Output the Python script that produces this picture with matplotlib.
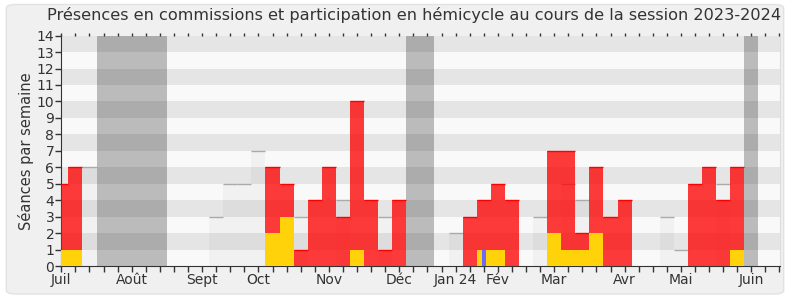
import numpy as np
import matplotlib
matplotlib.use("Agg")
import matplotlib.pyplot as plt
from matplotlib.patches import FancyBboxPatch

# one value per week, week 0 = start of July 2023
red = [5, 6, 0, 0, 0, 0, 0, 0, 0, 0, 0, 0, 0, 0, 0, 6, 5, 1, 4, 6,
       3, 10, 4, 1, 4, 0, 0, 0, 0, 3, 4, 5, 4, 0, 0, 7, 7, 2, 6, 3,
       4, 0, 0, 0, 0, 5, 6, 4, 6, 0, 0, 0]
yellow = [1, 1, 0, 0, 0, 0, 0, 0, 0, 0, 0, 0, 0, 0, 0, 2, 3, 0, 0, 0,
          0, 1, 0, 0, 0, 0, 0, 0, 0, 0, 1, 1, 0, 0, 0, 2, 1, 1, 2, 0,
          0, 0, 0, 0, 0, 0, 0, 0, 1, 0, 0, 0]
blue = [0] * 30 + [1] + [0] * 21
median = [0, 0, 6, 0, 0, 0, 0, 0, 0, 0, 0, 3, 5, 5, 7, 0, 0, 3, 0, 0,
          4, 0, 0, 3, 0, 0, 0, 0, 2, 0, 0, 0, 0, 0, 3, 0, 5, 4, 0, 0,
          0, 0, 0, 3, 1, 0, 0, 5, 0, 0, 0, 0]
vacances = [3, 4, 5, 6, 7, 25, 26, 49]
mois = ["Juil", "Août", "Sept", "Oct", "Nov", "Déc", "Jan 24", "Fév",
        "Mar", "Avr", "Mai", "Juin"]
mois_semaine = [0, 5, 10, 14, 19, 24, 28, 31, 35, 40, 44, 49]

weeks = np.arange(len(red))

fig = plt.figure(figsize=(7.9, 3.0), dpi=100)
fig.patch.set_facecolor("white")
fig.patches.append(FancyBboxPatch((0.008, 0.02), 0.984, 0.965, boxstyle="round,pad=0,rounding_size=0.012",
                                  transform=fig.transFigure, facecolor="#f0f0f0", edgecolor="#e2e2e2",
                                  linewidth=1, zorder=-10))
ax = fig.add_axes([0.0776, 0.1133, 0.91, 0.768])
ax.set_facecolor("white")

for w in vacances:
    ax.axvspan(w - 0.5, w + 0.5, color="#c0c0c0", lw=0, zorder=0)
for y in range(14):
    ax.axhspan(y, y + 1, color="black", alpha=0.1 if y % 2 else 0.025, lw=0, zorder=1)

med = np.array(median)
ax.bar(weeks, med, width=1, color="black", alpha=0.03, lw=0, zorder=2)
ax.hlines(med[med > 0], weeks[med > 0] - 0.5, weeks[med > 0] + 0.5, color="#aaaaaa", lw=1, zorder=2)

r = np.array(red)
ax.bar(weeks, r, width=1, color=(1, 0, 0, 0.77), lw=0, zorder=3)
ax.hlines(r[r > 0], weeks[r > 0] - 0.5, weeks[r > 0] + 0.5, color="#ff0000", lw=1, zorder=3)
ax.bar(weeks, yellow, width=1, color="#ffd20a", lw=0, zorder=4)
ax.bar(weeks, blue, width=0.25, color="#6a6aff", lw=0, zorder=5)

ax.set_xlim(0, 51.05)
ax.set_ylim(0, 14)
ax.set_yticks(range(15))
ax.set_xticks(weeks)
labels = [""] * len(weeks)
for m, w in zip(mois, mois_semaine):
    labels[w] = m
ax.set_xticklabels(labels)
ax.tick_params(axis="x", length=4, width=1, color="#333333", labelsize=10, labelcolor="#333333", pad=1)
ax.tick_params(axis="y", length=4, width=1, color="#333333", labelsize=10, labelcolor="#333333", pad=1)
for s in ["left", "bottom"]:
    ax.spines[s].set_color("#333333")
ax.spines["top"].set_visible(False)
ax.spines["right"].set_color("#dddddd")

top = ax.secondary_xaxis("top")
top.set_xticks(weeks)
top.set_xticklabels([])
top.tick_params(length=2, width=1, color="#333333")
top.spines["top"].set_visible(False)

ax.set_ylabel("Séances par semaine", fontsize=10.5, color="#333333", labelpad=2)
fig.suptitle("Présences en commissions et participation en hémicycle au cours de la session 2023-2024",
             x=0.524, y=0.978, fontsize=11.6, color="#333333")

fig.savefig("out.png", dpi=100)
